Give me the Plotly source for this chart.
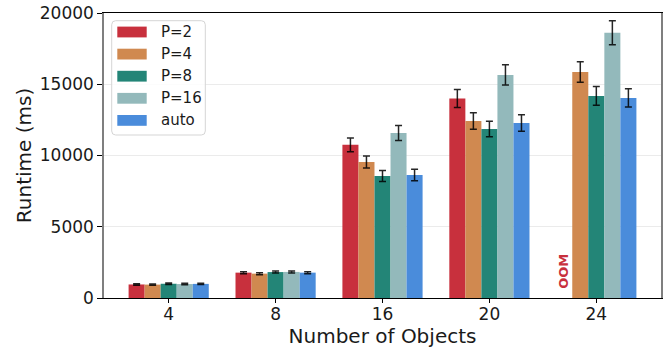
import plotly.graph_objects as go

# Benchmark data: runtime (ms) per number of objects and parallelism setting
categories = ["4", "8", "16", "20", "24"]
series_names = ["P=2", "P=4", "P=8", "P=16", "auto"]

runtime_p2 = [950, 1780, 10750, 14000, None]      # P=2 ran out of memory at 24
runtime_p4 = [940, 1710, 9550, 12420, 15860]
runtime_p8 = [1000, 1820, 8560, 11860, 14180]
runtime_p16 = [980, 1830, 11580, 15650, 18620]
runtime_auto = [990, 1780, 8630, 12280, 14040]

err_p2 = [50, 70, 480, 640, None]
err_p4 = [50, 70, 420, 585, 725]
err_p8 = [50, 70, 385, 550, 660]
err_p16 = [50, 70, 525, 710, 840]
err_auto = [50, 70, 400, 575, 645]

y_ticks = [0, 5000, 10000, 15000, 20000]

colors = ["#c8303d", "#d08950", "#238577", "#93b9bb", "#4a8cdb"]

values = [runtime_p2, runtime_p4, runtime_p8, runtime_p16, runtime_auto]
errors = [err_p2, err_p4, err_p8, err_p16, err_auto]

W, H = 672, 349
ML, MR, MT, MB = 104, 11, 13, 51
PW, PH = W - ML - MR, H - MT - MB

FONT = "DejaVu Sans"

fig = go.Figure()
for name, vals, errs, col in zip(series_names, values, errors, colors):
    fig.add_trace(go.Bar(
        x=categories, y=vals, name=name,
        marker=dict(color=col, line=dict(width=0)),
        error_y=dict(type="data", array=errs, visible=True,
                     color="rgba(0,0,0,0.85)", thickness=1.5, width=3.5),
        showlegend=False,
    ))

# Out-of-memory marker at the missing P=2 bar in the last group
n_series = len(series_names)
bar_w = 0.75 / n_series
oom_idx = runtime_p2.index(None)
oom_x = oom_idx + (0 - (n_series - 1) / 2) * bar_w
fig.add_annotation(x=oom_x, y=0, xref="x", yref="y", text="<b>OOM</b>",
                   textangle=-90, showarrow=False, yanchor="bottom",
                   yshift=7, xshift=-1,
                   font=dict(family=FONT, size=13, color=colors[0]))


def px_to_paper(px, py):
    return (px - ML) / PW, (H - MB - py) / PH


# Hand-built legend: rounded frame, wide colour swatches, labels
x0, y0 = px_to_paper(111.7, 135)
x1, y1 = px_to_paper(205.3, 20.7)
rx, ry = 4 / PW, 4 / PH
path = (f"M {x0+rx},{y0} L {x1-rx},{y0} Q {x1},{y0} {x1},{y0+ry} "
        f"L {x1},{y1-ry} Q {x1},{y1} {x1-rx},{y1} L {x0+rx},{y1} "
        f"Q {x0},{y1} {x0},{y1-ry} L {x0},{y0+ry} Q {x0},{y0} {x0+rx},{y0} Z")
fig.add_shape(type="path", path=path, xref="paper", yref="paper",
              line=dict(color="#d5d5d5", width=1), fillcolor="rgba(255,255,255,0.85)",
              layer="above")
row_y0, row_step = 32.0, 22.1
for i, (name, col) in enumerate(zip(series_names, colors)):
    cy = row_y0 + i * row_step
    sx0, sy0 = px_to_paper(117.3, cy + 5.4)
    sx1, sy1 = px_to_paper(146.7, cy - 5.4)
    fig.add_shape(type="rect", x0=sx0, x1=sx1, y0=sy0, y1=sy1,
                  xref="paper", yref="paper", fillcolor=col,
                  line=dict(width=0), layer="above")
    tx, ty = px_to_paper(158.5, cy)
    fig.add_annotation(x=tx, y=ty, xref="paper", yref="paper", text=name,
                       showarrow=False, xanchor="left", yanchor="middle",
                       font=dict(family=FONT, size=15, color="#1a1a1a"))

fig.update_layout(
    width=W, height=H,
    margin=dict(l=ML, r=MR, t=MT, b=MB, autoexpand=False),
    paper_bgcolor="white", plot_bgcolor="white",
    barmode="group", bargap=0.25, bargroupgap=0,
    font=dict(family=FONT, size=17, color="#1a1a1a"),
    showlegend=False,
)
fig.update_xaxes(
    type="category", range=[-0.605, 4.605],
    showline=True, linecolor="black", linewidth=1.3, mirror=True,
    ticks="outside", ticklen=4, tickcolor="black", tickwidth=1.2,
    ticklabelstandoff=-4,
    showgrid=False, zeroline=False,
    tickfont=dict(family=FONT, size=17, color="#1a1a1a"),
    title=dict(text="Number of Objects", standoff=6,
               font=dict(family=FONT, size=20, color="#1a1a1a")),
)
fig.update_yaxes(
    range=[0, 20000], tickvals=y_ticks, ticktext=[str(v) for v in y_ticks],
    showline=True, linecolor="#7f7f7f", linewidth=1.5, mirror=True,
    ticks="outside", ticklen=5, tickcolor="black", tickwidth=1.2,
    showgrid=True, gridcolor="#ebebeb", gridwidth=1, zeroline=False,
    tickfont=dict(family=FONT, size=17, color="#1a1a1a"),
    title=dict(text="Runtime (ms)", standoff=3,
               font=dict(family=FONT, size=20, color="#1a1a1a")),
)

fig.write_html("out.html")
